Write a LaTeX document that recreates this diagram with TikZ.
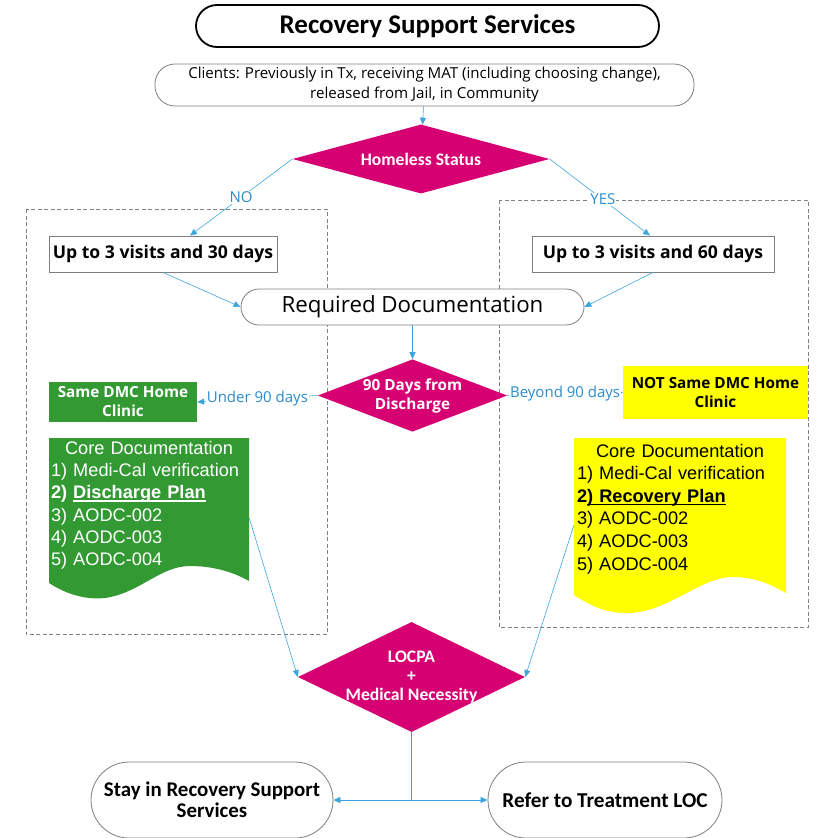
\documentclass[tikz,border=0pt]{standalone}
\usepackage{fontspec}
\setmainfont{Carlito}
\newfontfamily\segoe{Open Sans}
\newfontfamily\arialf{Liberation Sans}
\usepackage{tikz}
\usetikzlibrary{positioning,calc,arrows.meta,shapes.geometric}
\definecolor{FlowMagenta}{HTML}{D60072}
\definecolor{FlowGreen}{HTML}{339933}
\definecolor{FlowYellow}{HTML}{FFFF00}
\definecolor{FlowBlue}{HTML}{3DA5DD}
\definecolor{FlowLabel}{HTML}{2E8BC9}
\definecolor{FlowGray}{HTML}{7F7F7F}
\definecolor{FlowDash}{HTML}{808080}
\newcommand\docul[1]{\setbox0\hbox{#1}\rlap{\rule[-2.8pt]{\wd0}{1.2pt}}\box0}

\begin{document}
\begin{tikzpicture}[
    x=1pt, y=-1pt,
    pill/.style={draw=FlowGray, line width=0.8pt, fill=white, align=center, inner sep=0pt},
    plainbox/.style={draw=FlowGray, line width=0.8pt, fill=white, minimum height=36pt, inner sep=0pt,
      font=\segoe\bfseries\fontsize{17.6}{20}\selectfont},
    decision/.style={diamond, fill=FlowMagenta, text=white, align=center, inner sep=0pt},
    clinic/.style={minimum height=40pt, align=center, inner sep=0pt,
      font=\segoe\bfseries\fontsize{15.3}{19}\selectfont},
    docbox/.style={minimum width=200pt, minimum height=160pt, inner sep=0pt},
    doctext/.style={align=left, inner sep=0pt, font=\arialf\fontsize{18.2}{22.3}\selectfont},
    arrow/.style={-{Triangle[length=7pt,width=6pt]}, line width=0.6pt, draw=FlowBlue},
    tag/.style={fill=white, text=FlowLabel, inner sep=1pt, font=\segoe\fontsize{15}{17}\selectfont},
    frame/.style={draw=FlowDash, line width=0.8pt, dash pattern=on 4pt off 2.5pt}
  ]
    \useasboundingbox (0,0) rectangle (823,838);
    \draw[frame] (26,209) rectangle (327,634);
    \draw[frame] (499,200) rectangle (808,627);
    \fill[FlowGreen] (49,438) -- (249,438) -- (249,581)
      .. controls (235,573) and (215,566) .. (190,566)
      .. controls (160,566) and (140,593) .. (105,598)
      .. controls (85,600) and (66,594) .. (49,583) -- cycle;
    \fill[FlowYellow] (574,438) -- (786,438) -- (786,593)
      .. controls (770,584) and (755,577) .. (733,577)
      .. controls (700,577) and (670,611) .. (630,613)
      .. controls (605,614) and (588,604) .. (574,595) -- cycle;

    \node[pill, draw=black, line width=1.8pt, rounded corners=21pt, minimum width=463pt, minimum height=42pt,
      font=\bfseries\fontsize{27}{30}\selectfont] (title) at (427.5,26) {Recovery Support Services};
    \node[pill, rounded corners=20pt, minimum width=539pt, minimum height=42pt,
      font=\segoe\fontsize{15.1}{20}\selectfont] (clients) at (424.5,85)
      {Clients: Previously in Tx, receiving MAT (including choosing change),\\released from Jail, in Community};
    \node[decision, aspect=3.72, minimum width=257pt, minimum height=69pt,
      font=\bfseries\fontsize{17.6}{19}\selectfont] (homeless) at (421,159) {Homeless Status};
    \node[plainbox, minimum width=228pt] (up30) at (163,254) {Up to 3 visits and 30 days};
    \node[plainbox, minimum width=242pt] (up60) at (653,254) {Up to 3 visits and 60 days};
    \node[pill, rounded corners=18pt, minimum width=343pt, minimum height=36pt,
      font=\segoe\fontsize{22.3}{24}\selectfont] (reqdoc) at (412.5,307) {Required Documentation};
    \node[decision, aspect=2.62, minimum width=181pt, minimum height=69pt,
      font=\segoe\bfseries\fontsize{15.3}{19}\selectfont] (days90) at (412.5,395.5) {90 Days from\\Discharge};
    \node[clinic, fill=FlowGreen, text=white, minimum width=148pt] (same) at (123,402) {Same DMC Home\\Clinic};
    \node[clinic, fill=FlowYellow, minimum width=185pt, minimum height=53pt] (notsame) at (715.5,392.5)
      {NOT Same DMC Home\\Clinic};
    \node[docbox] (coreL) at (149,518) {};
    \node[doctext, text=white, text width=196pt, below=3pt of coreL.north] (coreLtext)
      {\makebox[196pt]{Core Documentation}\\1) Medi-Cal verification\\\textbf{2) \docul{Discharge Plan}}\\
       3) AODC-002\\4) AODC-003\\5) AODC-004};
    \node[docbox, minimum width=212pt, minimum height=175pt] (coreR) at (680,525.5) {};
    \node[doctext, text width=206pt, below=6pt of coreR.north, font=\arialf\fontsize{18.2}{22.6}\selectfont]
      (coreRtext) {\makebox[206pt]{Core Documentation}\\1) Medi-Cal verification\\\textbf{2\docul{) Recovery Plan}}\\
       3) AODC-002\\4) AODC-003\\5) AODC-004};
    \node[decision, aspect=2.06, inner sep=-4pt, minimum width=227pt, minimum height=110pt,
      font=\bfseries\fontsize{17.6}{19}\selectfont] (locpa) at (411.5,677) {LOCPA\\+\\Medical Necessity};
    \node[pill, rounded corners=38pt, minimum width=242pt, minimum height=76pt,
      font=\bfseries\fontsize{20.9}{21}\selectfont] (stay) at (212,800) {Stay in Recovery Support\\Services};
    \node[pill, rounded corners=38pt, minimum width=234pt, minimum height=76pt,
      font=\bfseries\fontsize{21.2}{21}\selectfont] (refer) at (605,800) {Refer to Treatment LOC};

    \draw[arrow] (clients) -- (homeless);
    \draw[arrow] (homeless.west) -- node[tag] {NO} ([xshift=27pt]up30.north);
    \draw[arrow] (homeless.east) -- node[tag, pos=0.53] {YES} ([xshift=-3pt]up60.north);
    \draw[arrow] (up30.south) -- (reqdoc.west);
    \draw[arrow] (up60.south) -- (reqdoc.east);
    \draw[arrow] (reqdoc) -- (days90);
    \draw[arrow] (days90.west) -- node[tag] {Under 90 days} (same.east);
    \draw[arrow] (days90.east) -- node[tag] {Beyond 90 days} (notsame.west);
    \draw[arrow] (coreL.east) -- (locpa.west);
    \draw[arrow] (coreR.west) -- (locpa.east);
    \coordinate (split) at (locpa.south |- stay.east);
    \draw[draw=FlowBlue, line width=0.6pt] (locpa.south) -- (split);
    \draw[arrow] (split) -- (stay.east);
    \draw[arrow] (split) -- (refer.west);
  \end{tikzpicture}
\end{document}
